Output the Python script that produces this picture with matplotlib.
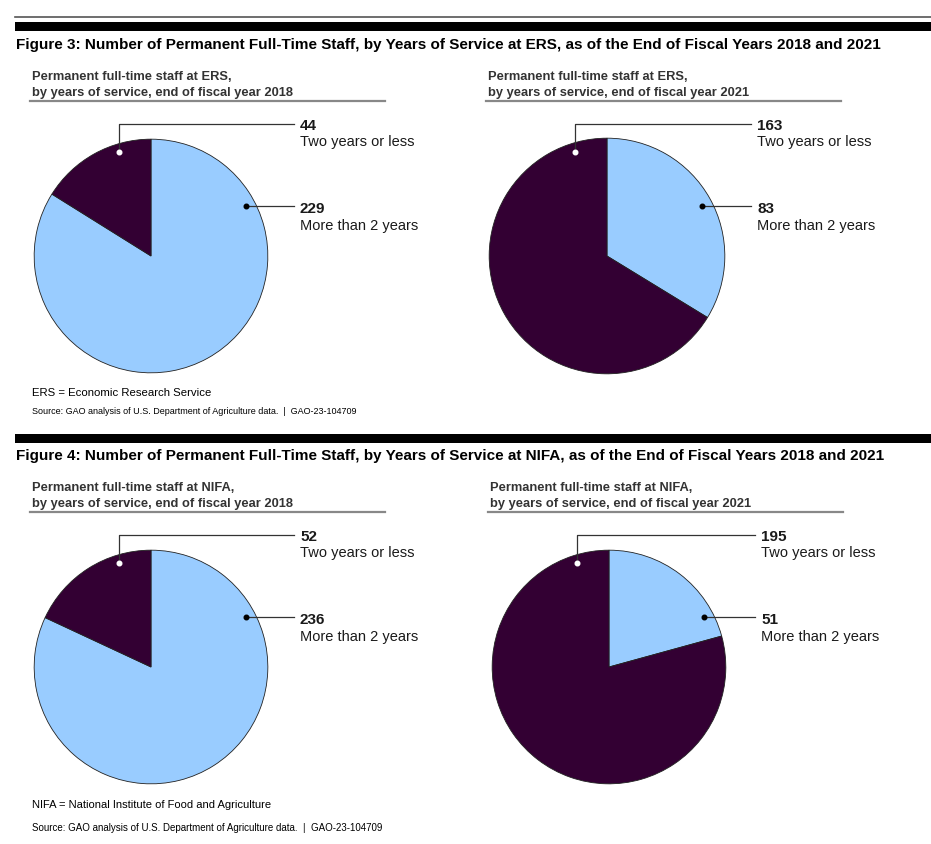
import matplotlib.pyplot as plt
from matplotlib import font_manager

# values
labels = ["More than 2 years", "Two years or less"]
ers_2018 = [229, 44]
ers_2021 = [83, 163]
nifa_2018 = [236, 52]
nifa_2021 = [51, 195]
years = ["2018", "2021"]

light_blue = "#99ccff"
dark_purple = "#330033"

names = {f.name for f in font_manager.fontManager.ttflist}
narrow = "Liberation Sans Narrow" if "Liberation Sans Narrow" in names else "Liberation Sans"
regular = "Liberation Sans"

W, H = 931, 845
fig = plt.figure(figsize=(W / 100, H / 100), dpi=100)
ov = fig.add_axes([0, 0, 1, 1])
ov.set_xlim(0, W)
ov.set_ylim(H, 0)
ov.axis("off")
ov.set_zorder(10)
ov.patch.set_visible(False)


def pie_panel(cx, cy, r, values, org, year, text_x):
    ax = fig.add_axes([(cx - r) / W, 1 - (cy + r) / H, 2 * r / W, 2 * r / H])
    ax.pie(values, colors=[light_blue, dark_purple], startangle=90, counterclock=False,
           wedgeprops=dict(edgecolor="#222222", linewidth=0.6))
    ax.set_aspect("equal")
    ax.set_xlim(-1.01, 1.01)
    ax.set_ylim(-1.01, 1.01)

    # subtitle
    ov.text(cx - 119, cy - 180, "Permanent full-time staff at %s," % org,
            fontsize=9.3, fontweight="bold", family=narrow, color="#333333", va="center")
    ov.text(cx - 119, cy - 164, "by years of service, end of fiscal year %s" % year,
            fontsize=9.3, fontweight="bold", family=narrow, color="#333333", va="center")
    ov.plot([cx - 121, cx + 234], [cy - 155, cy - 155], color="#888888", lw=1.6)

    # leader for "two years or less"
    d1x, d1y = cx - 32, cy - 104
    lx = text_x - 6
    ov.plot([d1x, d1x, lx], [d1y, cy - 132, cy - 132], color="#333333", lw=0.9)
    ov.plot(d1x, d1y, "o", ms=3.3, mfc="white", mec="white")
    ov.text(text_x, cy - 131, str(values[1]), fontsize=11, fontweight="bold",
            family=regular, color="#1a1a1a", va="center")
    ov.text(text_x, cy - 115, labels[1], fontsize=10.5, family=regular,
            color="#1a1a1a", va="center")

    # leader for "more than 2 years"
    d2x, d2y = cx + 95, cy - 50
    ov.plot([d2x, lx], [d2y, d2y], color="#333333", lw=0.9)
    ov.plot(d2x, d2y, "o", ms=3.3, mfc="black", mec="black")
    ov.text(text_x, cy - 48, str(values[0]), fontsize=11, fontweight="bold",
            family=regular, color="#1a1a1a", va="center")
    ov.text(text_x, cy - 31, labels[0], fontsize=10.5, family=regular,
            color="#1a1a1a", va="center")


# ---- Figure 3 (ERS) ----
ov.plot([15, W], [18, 18], color="#555555", lw=1.2)
ov.fill_between([15, W], 23, 32, color="black", lw=0)
ov.text(16, 45, "Figure 3: Number of Permanent Full-Time Staff, by Years of Service at ERS, "
        "as of the End of Fiscal Years 2018 and 2021",
        fontsize=11, fontweight="bold", family=narrow, va="center")
pie_panel(151, 257, 118, ers_2018, "ERS", years[0], 300)
pie_panel(607, 257, 119, ers_2021, "ERS", years[1], 757)
ov.text(32, 393, "ERS = Economic Research Service", fontsize=8.2, family=narrow, va="center")
ov.text(32, 412, "Source: GAO analysis of U.S. Department of Agriculture data.  |  GAO-23-104709",
        fontsize=6.5, family=narrow, va="center")

# ---- Figure 4 (NIFA) ----
ov.fill_between([15, W], 435, 444, color="black", lw=0)
ov.text(16, 456, "Figure 4: Number of Permanent Full-Time Staff, by Years of Service at NIFA, "
        "as of the End of Fiscal Years 2018 and 2021",
        fontsize=11, fontweight="bold", family=narrow, va="center")
pie_panel(151, 668, 118, nifa_2018, "NIFA", years[0], 300)
pie_panel(609, 668, 118, nifa_2021, "NIFA", years[1], 761)
ov.text(32, 805, "NIFA = National Institute of Food and Agriculture", fontsize=8, family=regular, va="center")
ov.text(32, 828, "Source: GAO analysis of U.S. Department of Agriculture data.  |  GAO-23-104709",
        fontsize=7, family=regular, va="center")

plt.savefig("out.png", dpi=100)
